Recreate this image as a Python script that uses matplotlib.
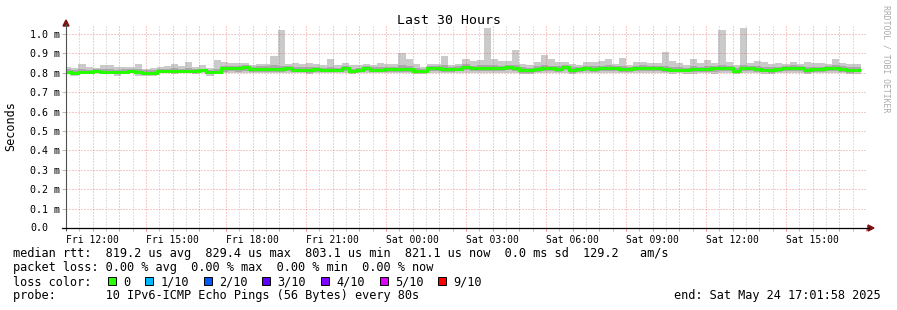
import numpy as np
import matplotlib
matplotlib.use("Agg")
import matplotlib.pyplot as plt
import matplotlib.dates as mdates
from matplotlib.ticker import FuncFormatter, FixedLocator
from matplotlib.lines import Line2D
from matplotlib.patches import Polygon, Rectangle
from datetime import datetime, timedelta

# --- data (ms), one value per 16 min bin ---
med = [0.804, 0.801, 0.804, 0.804, 0.809, 0.806, 0.806, 0.806, 0.806, 0.809,
       0.806, 0.801, 0.801, 0.809, 0.811, 0.811, 0.809, 0.809, 0.811, 0.812,
       0.804, 0.804, 0.823, 0.823, 0.823, 0.828, 0.820, 0.820, 0.820, 0.820,
       0.818, 0.823, 0.814, 0.814, 0.814, 0.820, 0.814, 0.814, 0.814, 0.823,
       0.809, 0.814, 0.823, 0.814, 0.814, 0.820, 0.820, 0.820, 0.818, 0.811,
       0.811, 0.823, 0.823, 0.820, 0.820, 0.820, 0.832, 0.823, 0.823, 0.823,
       0.823, 0.823, 0.828, 0.823, 0.814, 0.814, 0.820, 0.823, 0.823, 0.820,
       0.828, 0.814, 0.820, 0.823, 0.820, 0.823, 0.823, 0.823, 0.820, 0.820,
       0.823, 0.823, 0.823, 0.823, 0.818, 0.814, 0.814, 0.814, 0.818, 0.818,
       0.820, 0.823, 0.823, 0.823, 0.811, 0.823, 0.823, 0.820, 0.814, 0.814,
       0.818, 0.823, 0.823, 0.823, 0.814, 0.820, 0.818, 0.823, 0.823, 0.820,
       0.814, 0.814]

ping_max = [0.828, 0.823, 0.845, 0.828, 0.823, 0.840, 0.840, 0.828, 0.828, 0.828,
            0.845, 0.820, 0.823, 0.832, 0.835, 0.845, 0.835, 0.856, 0.828, 0.840,
            0.823, 0.866, 0.856, 0.850, 0.850, 0.853, 0.840, 0.845, 0.845, 0.887,
            1.021, 0.845, 0.853, 0.845, 0.853, 0.845, 0.840, 0.871, 0.840, 0.853,
            0.840, 0.840, 0.845, 0.840, 0.853, 0.845, 0.845, 0.900, 0.871, 0.845,
            0.832, 0.845, 0.845, 0.887, 0.840, 0.845, 0.873, 0.859, 0.866, 1.032,
            0.873, 0.861, 0.861, 0.918, 0.843, 0.840, 0.855, 0.890, 0.871, 0.857,
            0.855, 0.845, 0.840, 0.855, 0.855, 0.861, 0.871, 0.843, 0.876, 0.840,
            0.857, 0.857, 0.849, 0.849, 0.908, 0.861, 0.853, 0.840, 0.871, 0.849,
            0.866, 0.853, 1.021, 0.855, 0.840, 1.030, 0.849, 0.859, 0.857, 0.845,
            0.849, 0.843, 0.855, 0.845, 0.855, 0.849, 0.853, 0.845, 0.871, 0.853,
            0.845, 0.845]

ping_min = [0.795, 0.786, 0.797, 0.797, 0.797, 0.797, 0.795, 0.786, 0.795, 0.797,
            0.786, 0.786, 0.786, 0.797, 0.797, 0.795, 0.797, 0.797, 0.795, 0.797,
            0.786, 0.795, 0.797, 0.800, 0.797, 0.800, 0.800, 0.797, 0.797, 0.797,
            0.800, 0.800, 0.797, 0.797, 0.795, 0.797, 0.797, 0.797, 0.797, 0.800,
            0.795, 0.797, 0.800, 0.797, 0.797, 0.797, 0.797, 0.797, 0.797, 0.795,
            0.792, 0.800, 0.800, 0.797, 0.797, 0.797, 0.800, 0.797, 0.800, 0.800,
            0.800, 0.797, 0.800, 0.797, 0.794, 0.795, 0.797, 0.800, 0.800, 0.797,
            0.800, 0.794, 0.797, 0.797, 0.797, 0.800, 0.797, 0.800, 0.797, 0.797,
            0.800, 0.797, 0.800, 0.797, 0.797, 0.795, 0.797, 0.795, 0.794, 0.797,
            0.797, 0.792, 0.797, 0.800, 0.794, 0.797, 0.800, 0.797, 0.795, 0.795,
            0.797, 0.800, 0.797, 0.800, 0.795, 0.797, 0.797, 0.800, 0.797, 0.797,
            0.795, 0.795]

# inner (denser) part of the smoke
smoke_hi = [0.818, 0.815, 0.820, 0.816, 0.818, 0.820, 0.818, 0.816, 0.818, 0.818,
            0.820, 0.812, 0.814, 0.820, 0.822, 0.824, 0.820, 0.826, 0.820, 0.822,
            0.814, 0.820, 0.836, 0.836, 0.836, 0.840, 0.832, 0.834, 0.834, 0.838,
            0.836, 0.834, 0.830, 0.828, 0.830, 0.832, 0.826, 0.830, 0.826, 0.834,
            0.822, 0.826, 0.834, 0.828, 0.830, 0.832, 0.832, 0.838, 0.834, 0.826,
            0.822, 0.834, 0.836, 0.838, 0.832, 0.834, 0.844, 0.836, 0.838, 0.840,
            0.838, 0.836, 0.840, 0.840, 0.828, 0.826, 0.834, 0.838, 0.836, 0.834,
            0.840, 0.828, 0.832, 0.836, 0.834, 0.836, 0.838, 0.834, 0.836, 0.830,
            0.836, 0.838, 0.834, 0.834, 0.836, 0.830, 0.828, 0.826, 0.834, 0.830,
            0.836, 0.834, 0.840, 0.836, 0.826, 0.840, 0.834, 0.836, 0.830, 0.828,
            0.832, 0.834, 0.838, 0.834, 0.830, 0.832, 0.832, 0.834, 0.838, 0.834,
            0.828, 0.828]

smoke_lo = [0.799, 0.792, 0.799, 0.800, 0.801, 0.799, 0.800, 0.795, 0.799, 0.801,
            0.795, 0.793, 0.792, 0.801, 0.802, 0.801, 0.801, 0.800, 0.800, 0.803,
            0.794, 0.799, 0.806, 0.808, 0.806, 0.810, 0.806, 0.805, 0.806, 0.806,
            0.806, 0.810, 0.803, 0.804, 0.801, 0.806, 0.803, 0.804, 0.803, 0.808,
            0.800, 0.803, 0.808, 0.803, 0.804, 0.806, 0.806, 0.806, 0.806, 0.801,
            0.799, 0.808, 0.810, 0.806, 0.806, 0.808, 0.814, 0.808, 0.810, 0.808,
            0.810, 0.808, 0.812, 0.808, 0.801, 0.800, 0.806, 0.808, 0.810, 0.806,
            0.812, 0.800, 0.806, 0.808, 0.806, 0.810, 0.808, 0.810, 0.806, 0.806,
            0.810, 0.808, 0.810, 0.808, 0.806, 0.802, 0.803, 0.803, 0.804, 0.806,
            0.806, 0.806, 0.808, 0.810, 0.800, 0.808, 0.810, 0.806, 0.803, 0.801,
            0.806, 0.810, 0.808, 0.810, 0.801, 0.806, 0.804, 0.810, 0.808, 0.806,
            0.801, 0.802]

loss_labels = ["0", "1/10", "2/10", "3/10", "4/10", "5/10", "9/10"]
loss_colors = ["#26ff00", "#00b8ff", "#0059ff", "#5e00ff", "#7e00ff", "#dd00ff", "#ff0000"]

rtt_line = "median rtt:  819.2 us avg  829.4 us max  803.1 us min  821.1 us now  0.0 ms sd  129.2   am/s"
loss_line = "packet loss: 0.00 % avg  0.00 % max  0.00 % min  0.00 % now"
probe_line = "probe:       10 IPv6-ICMP Echo Pings (56 Bytes) every 80s"
end_line = "end: Sat May 24 17:01:58 2025"

start = datetime(2025, 5, 23, 11, 0)
end = datetime(2025, 5, 24, 17, 0)
first_bin = datetime(2025, 5, 23, 10, 56)
step = timedelta(minutes=16)

W, H = 897, 310
MONO = "DejaVu Sans Mono"
plt.rcParams["font.family"] = MONO


def fx(x):
    return x / W


def fy(y):
    return 1 - y / H


def ext(a):
    return np.append(a, a[-1])


fig = plt.figure(figsize=(W / 100, H / 100), dpi=100, facecolor="white")
ax = fig.add_axes([fx(66), fy(228), 800 / W, (228 - 26) / H])
ax.set_facecolor("white")

edges = mdates.date2num([first_bin + i * step for i in range(len(med) + 1)])

# smoke
ax.fill_between(edges, ext(ping_min), ext(ping_max), step="post",
                color="#cacaca", lw=0, zorder=1)
ax.fill_between(edges, ext(smoke_lo), ext(smoke_hi), step="post",
                color="#a9a9a9", lw=0, zorder=1.1)
# median, coloured by loss (all 0 here)
ax.stairs(med, edges, baseline=None, color=loss_colors[0], lw=2.2, zorder=3)

ax.set_xlim(mdates.date2num(start), mdates.date2num(end))
ax.set_ylim(0, (228 - 26) / 194)

for s in ax.spines.values():
    s.set_visible(False)


def xfmt(v, pos):
    d = mdates.num2date(v)
    if d.hour % 3 == 0 and d.minute == 0:
        return d.strftime("%a %H:%M")
    return ""


ax.xaxis.set_major_locator(mdates.HourLocator())
ax.xaxis.set_minor_locator(mdates.MinuteLocator(byminute=[30]))
ax.xaxis.set_major_formatter(FuncFormatter(xfmt))

yt = [i / 10 for i in range(11)]
ax.yaxis.set_major_locator(FixedLocator(yt))
ax.set_yticklabels(["" if v == 0 else f"{v:.1f} m" for v in yt])
fig.text(fx(48), fy(228), "0.0", ha="right", va="center", size=7.2)

dots = (0, (1, 2))
ax.set_axisbelow("line")
ax.grid(which="major", axis="x", color="#e05050", alpha=0.6, ls=dots, lw=0.72)
ax.grid(which="minor", axis="x", color="#8c8c8c", alpha=0.55, ls=dots, lw=0.72)
ax.grid(which="major", axis="y", color="#e05050", alpha=0.6, ls=dots, lw=0.72)

ax.tick_params(axis="x", which="major", length=2, width=0.72, color="#e89090",
               pad=3, labelsize=7.0)
ax.tick_params(axis="x", which="minor", length=2, width=0.72, color="#bbbbbb")
ax.tick_params(axis="y", which="major", length=3, width=0.72, color="#bbbbbb",
               pad=1.5, labelsize=7.2)

# axes with arrows
fig.add_artist(Line2D([fx(66), fx(66)], [fy(230), fy(24)], color="#505050",
                      lw=0.8, transform=fig.transFigure))
fig.add_artist(Line2D([fx(62), fx(869)], [fy(228), fy(228)], color="black",
                      lw=0.9, transform=fig.transFigure))
fig.add_artist(Polygon([(fx(63), fy(26)), (fx(69), fy(26)), (fx(66), fy(20))],
                       closed=True, color="#801010", transform=fig.transFigure))
fig.add_artist(Polygon([(fx(868), fy(225)), (fx(868), fy(231)), (fx(874), fy(228))],
                       closed=True, color="#801010", transform=fig.transFigure))

# texts
fig.text(fx(448.5), fy(20), "Last 30 Hours", ha="center", va="center", size=9.5)
fig.text(fx(11), fy(126), "Seconds", rotation=90, ha="center", va="center", size=8.5)
fig.text(fx(886), fy(59), "RRDTOOL / TOBI OETIKER", rotation=270, ha="center",
         va="center", size=5.9, color="#aaaaaa")

fs = 8.56
cw = 7.16
fig.text(fx(13), fy(257.5), rtt_line, ha="left", va="baseline", size=fs)
fig.text(fx(13), fy(271.5), loss_line, ha="left", va="baseline", size=fs)
fig.text(fx(13), fy(285.5), "loss color:", ha="left", va="baseline", size=fs)
bx = 108
for lab, col in zip(loss_labels, loss_colors):
    fig.add_artist(Rectangle((fx(bx), fy(285)), 8 / W, 8 / H, transform=fig.transFigure,
                             facecolor=col, edgecolor="black", lw=0.7))
    tx = bx + 15
    fig.text(fx(tx), fy(285.5), lab, ha="left", va="baseline", size=fs)
    bx = tx + len(lab) * cw + 15
fig.text(fx(13), fy(299.5), probe_line, ha="left", va="baseline", size=fs)
fig.text(fx(881), fy(299.5), end_line, ha="right", va="baseline", size=fs)

fig.savefig("out.png", dpi=100, facecolor="white")
